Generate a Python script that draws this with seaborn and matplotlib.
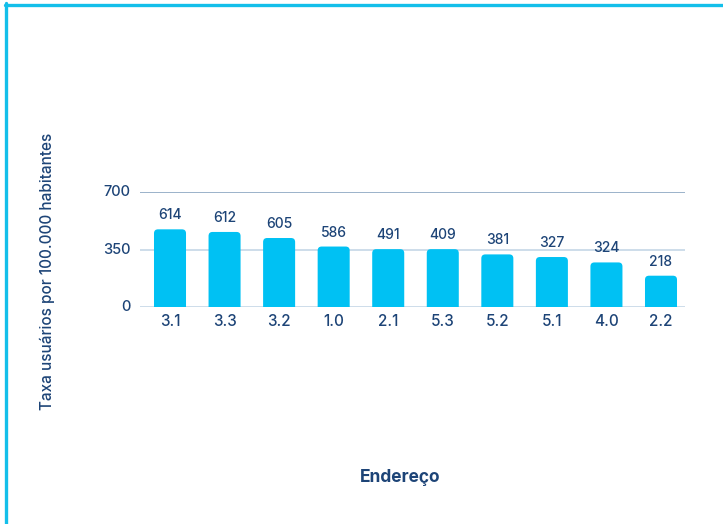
import matplotlib
matplotlib.use("Agg")
import matplotlib.pyplot as plt
from matplotlib.lines import Line2D
from matplotlib.patches import FancyBboxPatch
import seaborn as sns
import pandas as pd

# Data
categories = ["3.1", "3.3", "3.2", "1.0", "2.1", "5.3", "5.2", "5.1", "4.0", "2.2"]
bar_heights = [474, 458, 421, 369, 353, 353, 321, 305, 272, 191]
value_labels = ["614", "612", "605", "586", "491", "409", "381", "327", "324", "218"]
y_ticks = [0, 350, 700]

BAR = "#00c1f3"
NAVY = "#1d4477"
BORDER = "#13bfea"

sns.set_theme(style="white")
plt.rcParams["font.family"] = ["Inter", "DejaVu Sans"]

df = pd.DataFrame({"Endereço": categories, "valor": bar_heights})

W, H = 723, 524
fig = plt.figure(figsize=(W / 100, H / 100), dpi=100)
ax = fig.add_axes([140 / W, 1 - 307 / H, (685 - 140) / W, (307 - 192.3) / H])

sns.barplot(data=df, x="Endereço", y="valor", color=BAR, saturation=1,
            width=0.587, ax=ax, zorder=3)

ax.set_ylim(0, 700)
ax.set_xlim(-0.55, 9.44)

# rounded top corners: replace each bar patch by a rounded box
fig.canvas.draw()
px_x = ax.transData.transform((1, 0))[0] - ax.transData.transform((0, 0))[0]
px_y = ax.transData.transform((0, 1))[1] - ax.transData.transform((0, 0))[1]
r_px = 4.0
for p in list(ax.patches):
    x0, w, h = p.get_x(), p.get_width(), p.get_height()
    p.set_visible(False)
    ext = 30
    fb = FancyBboxPatch((x0, -ext), w, h + ext,
                        boxstyle=f"round,pad=0,rounding_size={r_px / px_x}",
                        mutation_aspect=px_x / px_y,
                        facecolor=BAR, edgecolor="none", zorder=3,
                        clip_on=True)
    ax.add_patch(fb)
    fb.set_clip_path(ax.patch)

ax.set_yticks(y_ticks)
ax.set_yticklabels([str(t) for t in y_ticks])
for sp in ax.spines.values():
    sp.set_visible(False)

for t in y_ticks:
    col = "#8aa6c1" if t == max(y_ticks) else "#c5d7e6"
    ax.axhline(t, color=col, lw=1.2, zorder=1)

ax.tick_params(axis="both", length=0)
ax.tick_params(axis="y", pad=7, labelsize=10.5, labelcolor=NAVY)
ax.tick_params(axis="x", pad=5, labelsize=11, labelcolor=NAVY)
for lbl in ax.get_yticklabels():
    lbl.set_fontweight("medium")
    lbl.set_va("center")
for lbl in ax.get_xticklabels():
    lbl.set_fontweight("medium")

ax.set_xlabel("")
ax.set_ylabel("")

for i, (h, lab) in enumerate(zip(bar_heights, value_labels)):
    ax.annotate(lab, (i, h), xytext=(0, 5), textcoords="offset points",
                ha="center", va="bottom", fontsize=10, color=NAVY,
                fontweight="medium")

fig.text(47 / W, 1 - 271 / H, "Taxa usuários por 100.000 habitantes",
         rotation=90, ha="center", va="center", fontsize=11, color=NAVY,
         fontweight="medium")
fig.text(400 / W, 1 - 477 / H, "Endereço", ha="center", va="center",
         fontsize=12.5, color=NAVY, fontweight="bold")

fig.add_artist(Line2D([5 / W, 1], [1 - 4.5 / H, 1 - 4.5 / H], color=BORDER,
                      lw=2.4, transform=fig.transFigure))
fig.add_artist(Line2D([6 / W, 6 / W], [0, 1 - 3 / H], color=BORDER,
                      lw=2.4, transform=fig.transFigure))

fig.savefig("out.png", dpi=100)
